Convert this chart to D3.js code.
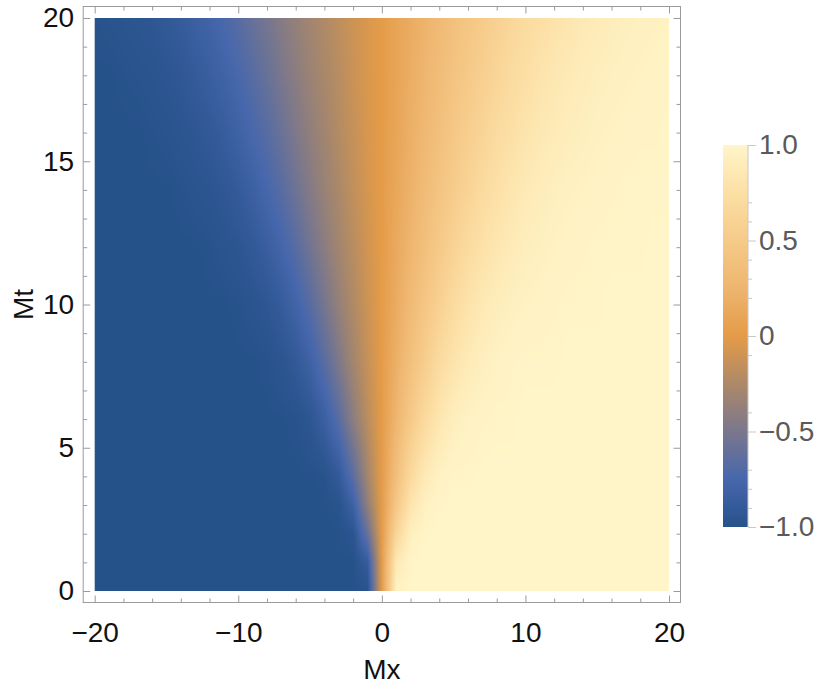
<!DOCTYPE html>
<html>
<head>
<meta charset="utf-8">
<script src="https://cdn.jsdelivr.net/npm/d3@7"></script>
<style>
  body { margin: 0; background: #fff; }
  text { font-family: "Liberation Sans", Arial, sans-serif; }
</style>
</head>
<body>
<div id="chart"></div>
<script>
// Density plot of a field over Mx (horizontal) and Mt (vertical)

// Grid the values were read on
const mxValues = [-20,-19,-18,-17,-16,-15,-14,-13,-12,-11,-10,-9,-8,-7,-6,-5,-4,-3,-2,-1,0,
                  1,2,3,4,5,6,7,8,9,10,11,12,13,14,15,16,17,18,19,20];
const mtValues = [0, 1, 2, 3, 4, 6, 8, 10, 12, 14, 16, 18, 20];

// One row of values per Mt, Mx from -20 to 20
const zMt0 = [-1,-1,-1,-1,-1,-1,-1,-1,-1,-1,-1,-1,-1,-1,-1,-1,-1,-1,-1,-0.99,0.01,
              0.97,1,1,1,1,1,1,1,1,1,1,1,1,1,1,1,1,1,1,1];
const zMt1 = [-1,-1,-1,-1,-1,-1,-1,-1,-1,-1,-1,-1,-1,-1,-1,-1,-1,-1,-1,-0.88,0.01,
              0.86,0.99,1,1,1,1,1,1,1,1,1,1,1,1,1,1,1,1,1,1];
const zMt2 = [-1,-1,-1,-1,-1,-1,-1,-1,-1,-1,-1,-1,-1,-1,-1,-1,-1,-1,-0.97,-0.59,0.01,
              0.64,0.94,0.99,1,1,1,1,1,1,1,1,1,1,1,1,1,1,1,1,1];
const zMt3 = [-1,-1,-1,-1,-1,-1,-1,-1,-1,-1,-1,-1,-1,-1,-1,-1,-1,-0.98,-0.82,-0.39,0.01,
              0.47,0.81,0.95,0.99,1,1,1,1,1,1,1,1,1,1,1,1,1,1,1,1];
const zMt4 = [-1,-1,-1,-1,-1,-1,-1,-1,-1,-1,-1,-1,-1,-1,-1,-1,-0.99,-0.90,-0.65,-0.30,0.01,
              0.37,0.68,0.87,0.96,0.99,0.99,1,1,1,1,1,1,1,1,1,1,1,1,1,1];
const zMt6 = [-1,-1,-1,-1,-1,-1,-1,-1,-1,-1,-1,-1,-1,-1,-0.99,-0.95,-0.84,-0.66,-0.41,-0.19,0.01,
              0.26,0.49,0.69,0.83,0.92,0.96,0.98,0.99,0.99,1,1,1,1,1,1,1,1,1,1,1];
const zMt8 = [-1,-1,-1,-1,-1,-1,-1,-1,-1,-1,-1,-1,-0.99,-0.96,-0.91,-0.81,-0.66,-0.48,-0.30,-0.14,0.01,
              0.20,0.38,0.54,0.70,0.80,0.88,0.93,0.96,0.98,0.99,0.99,0.99,1,1,1,1,1,1,1,1];
const zMt10 = [-1,-1,-1,-1,-1,-1,-1,-1,-1,-1,-0.99,-0.97,-0.94,-0.88,-0.79,-0.67,-0.52,-0.37,-0.24,-0.11,0.01,
               0.16,0.31,0.45,0.58,0.70,0.79,0.86,0.91,0.94,0.96,0.97,0.98,0.99,0.99,0.99,1,1,1,1,1];
const zMt12 = [-1,-1,-1,-1,-1,-1,-1,-1,-0.99,-0.97,-0.95,-0.91,-0.85,-0.77,-0.67,-0.54,-0.42,-0.30,-0.20,-0.09,0.01,
               0.14,0.26,0.38,0.49,0.60,0.70,0.77,0.83,0.88,0.92,0.94,0.96,0.97,0.98,0.99,0.99,0.99,0.99,1,1];
const zMt14 = [-1,-1,-1,-1,-1,-1,-0.99,-0.97,-0.96,-0.93,-0.89,-0.83,-0.75,-0.67,-0.56,-0.45,-0.35,-0.26,-0.16,-0.07,0.01,
               0.12,0.22,0.33,0.43,0.52,0.61,0.70,0.76,0.82,0.87,0.90,0.93,0.95,0.96,0.97,0.98,0.99,0.99,0.99,0.99];
const zMt16 = [-1,-1,-1,-1,-0.99,-0.98,-0.96,-0.94,-0.91,-0.87,-0.81,-0.74,-0.67,-0.58,-0.48,-0.39,-0.31,-0.22,-0.14,-0.06,0.01,
               0.10,0.20,0.29,0.38,0.47,0.55,0.62,0.70,0.75,0.81,0.85,0.88,0.91,0.93,0.95,0.96,0.97,0.98,0.98,0.99];
const zMt18 = [-1,-1,-0.99,-0.98,-0.97,-0.95,-0.93,-0.89,-0.85,-0.80,-0.74,-0.67,-0.59,-0.50,-0.42,-0.34,-0.27,-0.20,-0.12,-0.05,0.01,
               0.09,0.18,0.26,0.34,0.42,0.49,0.56,0.63,0.70,0.74,0.80,0.84,0.87,0.90,0.92,0.94,0.95,0.96,0.97,0.98];
const zMt20 = [-0.99,-0.98,-0.97,-0.95,-0.94,-0.91,-0.88,-0.83,-0.79,-0.73,-0.67,-0.59,-0.52,-0.44,-0.37,-0.30,-0.24,-0.17,-0.11,-0.05,0.01,
               0.09,0.16,0.23,0.31,0.38,0.45,0.51,0.58,0.64,0.70,0.74,0.79,0.82,0.86,0.88,0.91,0.93,0.94,0.95,0.96];

const zGrid = [zMt0, zMt1, zMt2, zMt3, zMt4, zMt6, zMt8, zMt10, zMt12, zMt14, zMt16, zMt18, zMt20];

// Tick values
const xMajorTicks = [-20, -10, 0, 10, 20];
const xMinorTicks = [-18, -16, -14, -12, -8, -6, -4, -2, 2, 4, 6, 8, 12, 14, 16, 18];
const yMajorTicks = [0, 5, 10, 15, 20];
const yMinorTicks = [1, 2, 3, 4, 6, 7, 8, 9, 11, 12, 13, 14, 16, 17, 18, 19];
const legendTicks = [-1, -0.5, 0, 0.5, 1];
const legendLabels = ['\u22121.0', '\u22120.5', '0', '0.5', '1.0'];
const legendMinorTicks = [-0.9, -0.8, -0.7, -0.4, -0.1, 0.2, 0.3, 0.4, 0.6, 0.7];

// Colour gradient (Mathematica style density gradient)
const colorStops = [-1, -0.75, -0.5, -0.25, 0, 0.25, 0.5, 0.75, 1];
const colorRange = ['#26528a', '#4767ad', '#7a778d', '#ad8968', '#e49b48',
                    '#eeb56f', '#f6ca89', '#fcdfa5', '#fff5c8'];

const W = 817, H = 690;
const fontSize = '28px';
const svg = d3.select('#chart').append('svg')
    .attr('width', W)
    .attr('height', H);

const xScale = d3.scaleLinear().domain([-20, 20]).range([94.7, 669]);
const yScale = d3.scaleLinear().domain([0, 20]).range([591, 18]);
const color = d3.scaleLinear().domain(colorStops).range(colorRange)
    .interpolate(d3.interpolateRgb).clamp(true);

// Frame sits 2% outside the plot range
const fx0 = 83.2, fx1 = 680.5, fy0 = 6.5, fy1 = 602.5;

// Look up value between grid nodes for drawing
function sample(mx, mt) {
    var ci = Math.max(0, Math.min(mxValues.length - 2, d3.bisectRight(mxValues, mx) - 1));
    var ri = Math.max(0, Math.min(mtValues.length - 2, d3.bisectRight(mtValues, mt) - 1));
    var tx = (mx - mxValues[ci]) / (mxValues[ci + 1] - mxValues[ci]);
    var ty = (mt - mtValues[ri]) / (mtValues[ri + 1] - mtValues[ri]);
    tx = Math.max(0, Math.min(1, tx));
    ty = Math.max(0, Math.min(1, ty));
    var a = zGrid[ri][ci] * (1 - tx) + zGrid[ri][ci + 1] * tx;
    var b = zGrid[ri + 1][ci] * (1 - tx) + zGrid[ri + 1][ci + 1] * tx;
    return a * (1 - ty) + b * ty;
}

// Paint the density into a canvas, then place it in the svg
const px0 = xScale.range()[0], px1 = xScale.range()[1];
const py0 = yScale.range()[1], py1 = yScale.range()[0];
const cw = Math.round(px1 - px0), ch = Math.round(py1 - py0);
const canvas = document.createElement('canvas');
canvas.width = cw;
canvas.height = ch;
const ctx = canvas.getContext('2d');
const img = ctx.createImageData(cw, ch);
for (var j = 0; j < ch; j++) {
    var mt = yScale.invert(py0 + (j + 0.5) * (py1 - py0) / ch);
    for (var i = 0; i < cw; i++) {
        var mx = xScale.invert(px0 + (i + 0.5) * (px1 - px0) / cw);
        var c = d3.rgb(color(sample(mx, mt)));
        var k = (j * cw + i) * 4;
        img.data[k] = c.r;
        img.data[k + 1] = c.g;
        img.data[k + 2] = c.b;
        img.data[k + 3] = 255;
    }
}
ctx.putImageData(img, 0, 0);

svg.append('image')
    .attr('x', px0)
    .attr('y', py0)
    .attr('width', px1 - px0)
    .attr('height', py1 - py0)
    .attr('preserveAspectRatio', 'none')
    .attr('href', canvas.toDataURL());

// Frame
svg.append('rect')
    .attr('x', fx0)
    .attr('y', fy0)
    .attr('width', fx1 - fx0)
    .attr('height', fy1 - fy0)
    .attr('fill', 'none')
    .attr('stroke', '#9a9a9a')
    .attr('stroke-width', 1);

// Inward ticks on all four sides; labels only bottom and left
function addAxis(axis, tx, ty, labels) {
    var g = svg.append('g')
        .attr('transform', 'translate(' + tx + ',' + ty + ')')
        .call(axis);
    g.select('.domain').remove();
    g.selectAll('line').attr('stroke', '#9a9a9a');
    if (labels) {
        g.selectAll('text')
            .attr('fill', '#111')
            .style('font-size', fontSize)
            .style('font-family', '"Liberation Sans", Arial, sans-serif');
    } else {
        g.selectAll('text').remove();
    }
    return g;
}

addAxis(d3.axisBottom(xScale).tickValues(xMajorTicks).tickSize(-7).tickPadding(20), 0, fy1, true);
addAxis(d3.axisBottom(xScale).tickValues(xMinorTicks).tickSize(-4), 0, fy1, false);
addAxis(d3.axisTop(xScale).tickValues(xMajorTicks).tickSize(-7), 0, fy0, false);
addAxis(d3.axisTop(xScale).tickValues(xMinorTicks).tickSize(-4), 0, fy0, false);

addAxis(d3.axisLeft(yScale).tickValues(yMajorTicks).tickSize(-7).tickPadding(9), fx0, 0, true);
addAxis(d3.axisLeft(yScale).tickValues(yMinorTicks).tickSize(-4), fx0, 0, false);
addAxis(d3.axisRight(yScale).tickValues(yMajorTicks).tickSize(-7), fx1, 0, false);
addAxis(d3.axisRight(yScale).tickValues(yMinorTicks).tickSize(-4), fx1, 0, false);

// Axis titles
svg.append('text')
    .attr('x', xScale(0))
    .attr('y', 679)
    .attr('text-anchor', 'middle')
    .attr('fill', '#111')
    .style('font-size', fontSize)
    .text('Mx');

svg.append('text')
    .attr('transform', 'translate(33,' + yScale(10) + ') rotate(-90)')
    .attr('text-anchor', 'middle')
    .attr('fill', '#111')
    .style('font-size', fontSize)
    .text('Mt');

// Colour bar legend
const legendScale = d3.scaleLinear().domain([-1, 1]).range([527, 145]);
const barX = 723, barW = 25;

const grad = svg.append('defs').append('linearGradient')
    .attr('id', 'barGrad')
    .attr('x1', 0).attr('y1', 1).attr('x2', 0).attr('y2', 0);
grad.selectAll('stop')
    .data(colorStops)
    .enter()
    .append('stop')
    .attr('offset', function(d) { return (d + 1) / 2; })
    .attr('stop-color', function(d) { return color(d); });

svg.append('rect')
    .attr('x', barX)
    .attr('y', legendScale(1))
    .attr('width', barW)
    .attr('height', legendScale(-1) - legendScale(1))
    .attr('fill', 'url(#barGrad)');

svg.append('line')
    .attr('x1', barX + barW).attr('x2', barX + barW)
    .attr('y1', legendScale(1)).attr('y2', legendScale(-1))
    .attr('stroke', '#c8c8c8');

var lg = svg.append('g')
    .attr('transform', 'translate(' + (barX + barW) + ',0)')
    .call(d3.axisRight(legendScale).tickValues(legendTicks).tickSize(8).tickPadding(3)
        .tickFormat(function(d, i) { return legendLabels[i]; }));
lg.select('.domain').remove();
lg.selectAll('line').attr('stroke', '#c8c8c8');
lg.selectAll('text')
    .attr('fill', '#5a5a5a')
    .style('font-size', fontSize)
    .style('font-family', '"Liberation Sans", Arial, sans-serif');

var lgm = svg.append('g')
    .attr('transform', 'translate(' + (barX + barW) + ',0)')
    .call(d3.axisRight(legendScale).tickValues(legendMinorTicks).tickSize(4));
lgm.select('.domain').remove();
lgm.selectAll('text').remove();
lgm.selectAll('line').attr('stroke', '#c8c8c8');
</script>
</body>
</html>
